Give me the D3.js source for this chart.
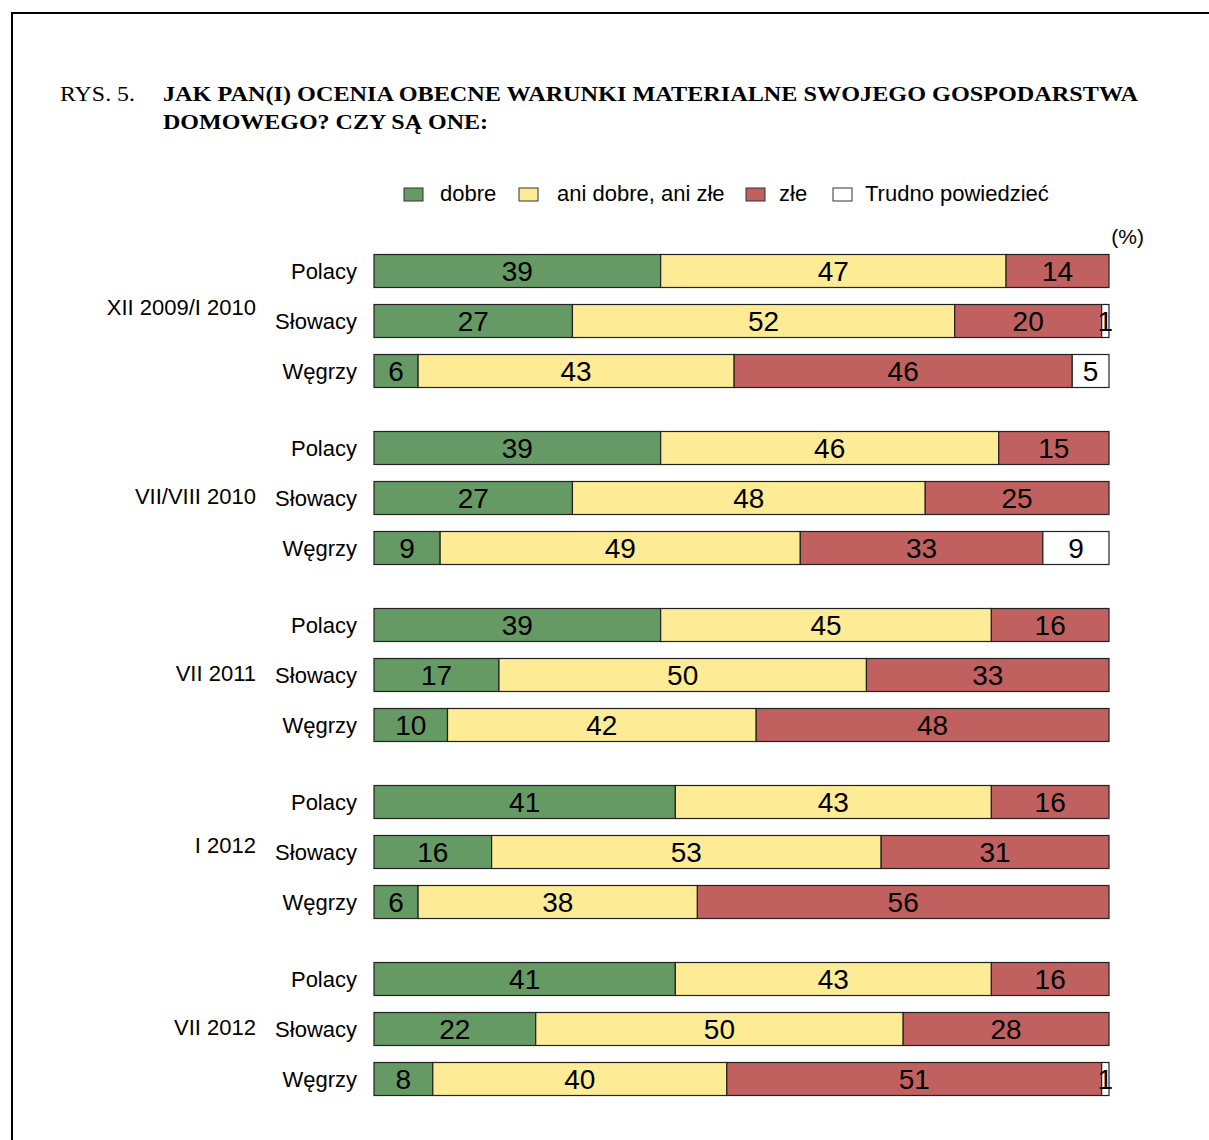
<!DOCTYPE html>
<html>
<head>
<meta charset="utf-8">
<script src="https://cdn.jsdelivr.net/npm/d3@7"></script>
<style>
	body { margin: 0; background: #fff; }
	svg text { font-family: "Liberation Sans", Arial, sans-serif; fill: #000; }
	.title { font-family: "Liberation Serif", "Times New Roman", serif; font-weight: bold; font-size: 21px; }
</style>
</head>
<body>
<svg id="chart" width="1209" height="1140"></svg>
<script>
// survey waves and nations
const waves = ["XII 2009/I 2010", "VII/VIII 2010", "VII 2011", "I 2012", "VII 2012"];
const nations = ["Polacy", "Słowacy", "Węgrzy"];
const categories = ["dobre", "ani dobre, ani złe", "złe", "Trudno powiedzieć"];

// values per wave, one row per nation: [dobre, ani, złe, trudno]
const wave1 = [[39, 47, 14, 0], [27, 52, 20, 1], [6, 43, 46, 5]];
const wave2 = [[39, 46, 15, 0], [27, 48, 25, 0], [9, 49, 33, 9]];
const wave3 = [[39, 45, 16, 0], [17, 50, 33, 0], [10, 42, 48, 0]];
const wave4 = [[41, 43, 16, 0], [16, 53, 31, 0], [6, 38, 56, 0]];
const wave5 = [[41, 43, 16, 0], [22, 50, 28, 0], [8, 40, 51, 1]];
const allWaves = [wave1, wave2, wave3, wave4, wave5];

const colours = d3.scaleOrdinal()
	.domain(categories)
	.range(["#659a64", "#fdec95", "#c06160", "#ffffff"]);

var svg = d3.select("#chart");

// frame
svg.append("path")
	.attr("d", "M12,1140 V13 H1209")
	.attr("fill", "none")
	.attr("stroke", "#000")
	.attr("stroke-width", 2);

// title
svg.append("text").attr("class", "title").style("font-weight", "normal")
	.attr("x", 60).attr("y", 101)
	.attr("textLength", 75).attr("lengthAdjust", "spacingAndGlyphs")
	.text("RYS. 5.");
svg.append("text").attr("class", "title")
	.attr("x", 163).attr("y", 101)
	.attr("textLength", 975).attr("lengthAdjust", "spacingAndGlyphs")
	.text("JAK PAN(I) OCENIA OBECNE WARUNKI MATERIALNE SWOJEGO GOSPODARSTWA");
svg.append("text").attr("class", "title")
	.attr("x", 163).attr("y", 129)
	.attr("textLength", 325).attr("lengthAdjust", "spacingAndGlyphs")
	.text("DOMOWEGO? CZY SĄ ONE:");

// legend
const legendX = [404, 519, 746, 833];
var legend = svg.append("g").attr("class", "legend");
categories.forEach(function(c, i) {
	legend.append("rect")
		.attr("x", legendX[i]).attr("y", 188)
		.attr("width", 19).attr("height", 13)
		.attr("fill", colours(c))
		.attr("stroke", "#333").attr("stroke-width", 1);
	legend.append("text")
		.attr("x", legendX[i] + (i === 1 ? 38 : i === 3 ? 32 : i === 2 ? 33 : 36)).attr("y", 201)
		.style("font-size", "22px")
		.text(c);
});

svg.append("text")
	.attr("x", 1144).attr("y", 244)
	.attr("text-anchor", "end")
	.style("font-size", "21px")
	.text("(%)");

// scales
var x = d3.scaleLinear().domain([0, 100]).range([374, 1109]);
var yWave = d3.scaleLinear().domain([0, waves.length - 1]).range([271, 979]);
var rowStep = 50;
var barH = 33;

var stack = d3.stack()
	.keys(d3.range(categories.length))
	.value((d, k) => d[k]);

allWaves.forEach(function(wave, w) {
	var g = svg.append("g").attr("class", "wave");
	var y0 = yWave(w);

	// wave label
	g.append("text")
		.attr("x", 256)
		.attr("y", y0 + rowStep - (w === 0 ? 14 : w === 3 ? 7 : 2))
		.attr("text-anchor", "end")
		.attr("dy", "0.35em")
		.style("font-size", "22px")
		.text(waves[w]);

	// nation labels
	g.selectAll(".nation")
		.data(nations)
		.enter()
		.append("text")
		.attr("class", "nation")
		.attr("x", 357)
		.attr("y", (d, i) => y0 + i * rowStep)
		.attr("dy", "0.35em")
		.attr("text-anchor", "end")
		.style("font-size", "22px")
		.text(d => d);

	var series = stack(wave);
	series.forEach(function(s, k) {
		var seg = g.selectAll(".seg" + k)
			.data(s.filter(d => d[1] - d[0] > 0).map(d => ({ d: d, row: s.indexOf(d) })))
			.enter();

		seg.append("rect")
			.attr("x", d => x(d.d[0]))
			.attr("y", d => y0 + d.row * rowStep - barH / 2)
			.attr("width", d => x(d.d[1]) - x(d.d[0]))
			.attr("height", barH)
			.attr("fill", colours(categories[k]))
			.attr("stroke", "#222")
			.attr("stroke-width", 1.2);

		seg.append("text")
			.attr("x", d => (x(d.d[0]) + x(d.d[1])) / 2)
			.attr("y", d => y0 + d.row * rowStep)
			.attr("dy", "0.36em")
			.attr("text-anchor", "middle")
			.style("font-size", "28px")
			.text(d => d.d[1] - d.d[0]);
	});
});
</script>
</body>
</html>
